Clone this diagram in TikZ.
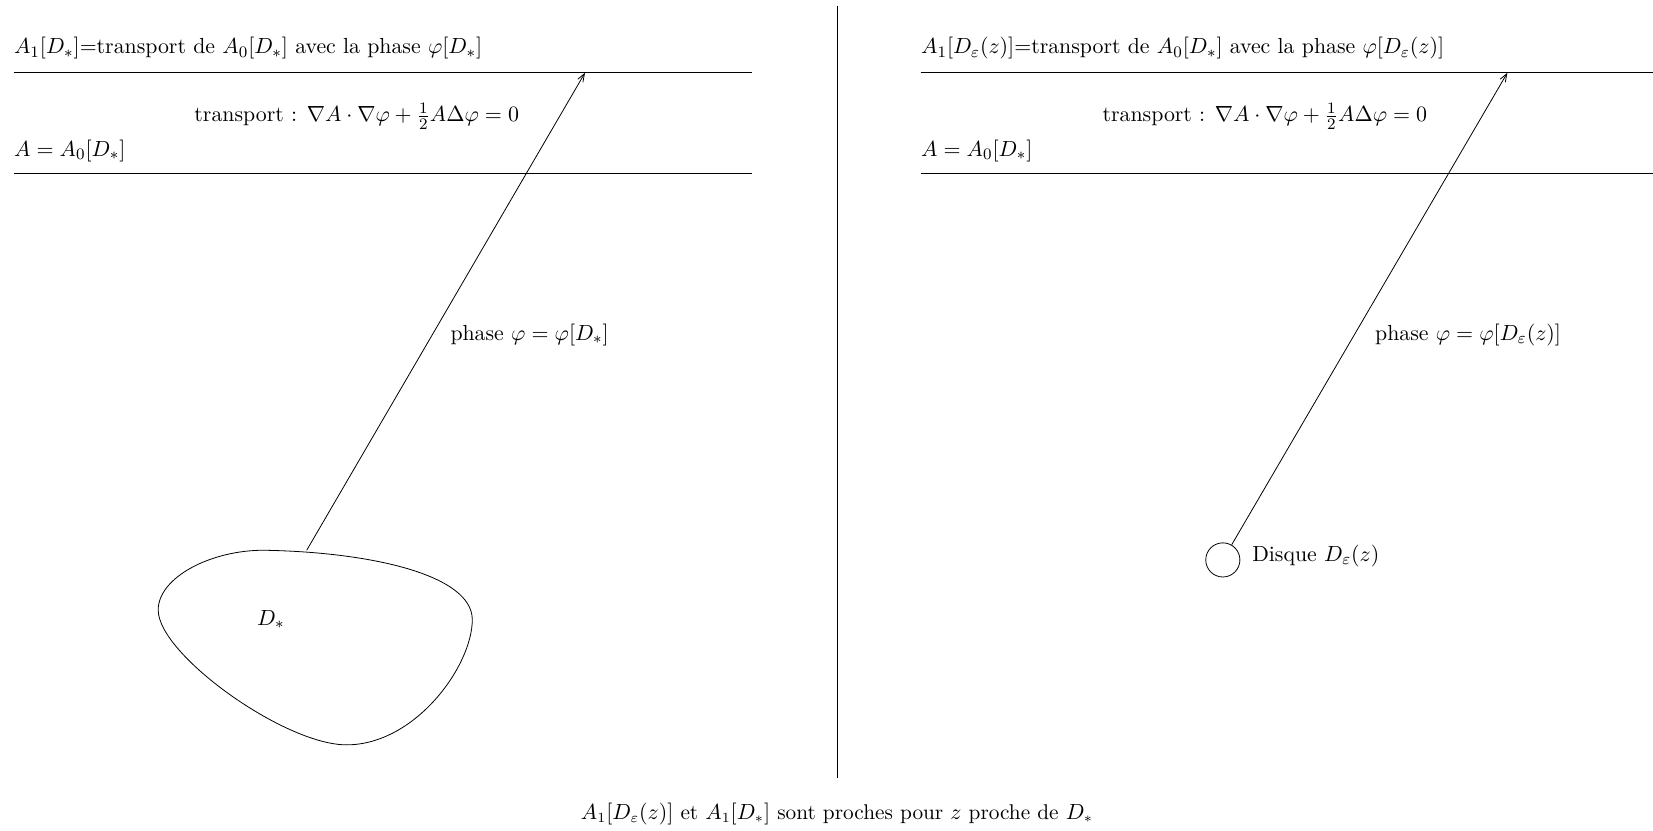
\documentclass[tikz,border=0pt]{standalone}
\usepackage{tikz}
\usetikzlibrary{arrows.meta,positioning,calc}
\tikzset{
  ph/line/.style={draw=black, thin},
  ph/arrow/.style={-{Straight Barb[length=4pt,width=3pt]}, thin, draw=black},
  ph/label/.style={anchor=west, inner sep=0pt},
  ph/disk/.style={circle, draw=black, thin, minimum size=0.6cm, inner sep=0pt}
}

\begin{document}
\begin{tikzpicture}[x=1cm,y=1cm,font=\fontsize{10.9}{13}\selectfont]
  \useasboundingbox (0,0) rectangle (29.05,14.60);
  % separation
  \draw[ph/line] (14.71,14.50) -- (14.71,0.93);
  % left part
  \node[ph/label] (ltitle) at (0.24,13.75) {$A_1[D_*]$=transport de $A_0[D_*]$ avec la phase $\varphi[D_*]$};
  \coordinate (ltopa) at (0.24,13.32);
  \coordinate (ltopb) at (13.22,13.32);
  \coordinate (lbota) at (0.24,11.56);
  \coordinate (lbotb) at (13.22,11.56);
  \draw[ph/line] (ltopa) -- (ltopb);
  \draw[ph/line] (lbota) -- (lbotb);
  \node[inner sep=0pt] (ltrans) at (6.27,12.56) {transport : $\nabla A\cdot\nabla\varphi+\frac{1}{2}A\Delta\varphi=0$};
  \node[ph/label] (linit) at (0.24,11.95) {$A=A_0[D_*]$};
  \draw[ph/line] (2.78,3.88) .. controls (2.78,4.45) and (3.7,4.93) .. (4.63,4.93)
    .. controls (6.5,4.90) and (8.30,4.5) .. (8.30,3.71)
    .. controls (8.30,2.9) and (7.3,1.51) .. (6.09,1.51)
    .. controls (5.0,1.51) and (2.78,3.1) .. cycle;
  \node (dstar) at (4.76,3.71) {$D_*$};
  \coordinate (lstart) at (5.39,4.93);
  \coordinate (ltip) at (10.28,13.32);
  \draw[ph/arrow] (lstart) -- (ltip);
  \node[ph/label] (lphase) at (7.91,8.71) {phase $\varphi=\varphi[D_*]$};
  % right part
  \node[ph/label] (rtitle) at (16.18,13.75) {$A_1[D_\varepsilon(z)]$=transport de $A_0[D_*]$ avec la phase $\varphi[D_\varepsilon(z)]$};
  \coordinate (rtopa) at (16.18,13.32);
  \coordinate (rtopb) at (29.05,13.32);
  \coordinate (rbota) at (16.18,11.56);
  \coordinate (rbotb) at (29.05,11.56);
  \draw[ph/line] (rtopa) -- (rtopb);
  \draw[ph/line] (rbota) -- (rbotb);
  \node[inner sep=0pt] (rtrans) at (22.23,12.56) {transport : $\nabla A\cdot\nabla\varphi+\frac{1}{2}A\Delta\varphi=0$};
  \node[ph/label] (rinit) at (16.18,11.95) {$A=A_0[D_*]$};
  \node[ph/disk] (disk) at (21.49,4.76) {};
  \node[ph/label] (disklabel) at (22.0,4.83) {Disque $D_\varepsilon(z)$};
  \coordinate (rtip) at (26.49,13.32);
  \draw[ph/arrow] (disk) -- (rtip);
  \node[ph/label] (rphase) at (24.16,8.71) {phase $\varphi=\varphi[D_\varepsilon(z)]$};
  % conclusion
  \node[font=\fontsize{10.65}{13}\selectfont] (concl) at (14.71,0.30) {$A_1[D_\varepsilon(z)]$ et $A_1[D_*]$ sont proches pour $z$ proche de $D_*$};
\end{tikzpicture}
\end{document}
